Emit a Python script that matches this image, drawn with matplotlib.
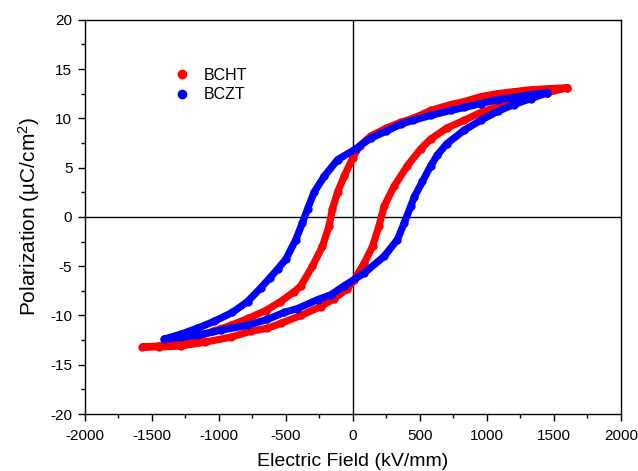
import matplotlib
matplotlib.use("Agg")
import matplotlib.pyplot as plt
from matplotlib.ticker import MultipleLocator

plt.rcParams['font.family'] = ['Liberation Sans', 'DejaVu Sans']
plt.rcParams['mathtext.fontset'] = 'custom'
plt.rcParams['mathtext.rm'] = 'Liberation Sans'
plt.rcParams['mathtext.it'] = 'Liberation Sans'
plt.rcParams['axes.unicode_minus'] = False

# ---------- data (kV/mm, uC/cm2) -------------------
bcht_E = [1602, 1450, 1328, 1200, 1080, 955, 831, 731, 582, 450, 358, 250, 134, 50, 0,
          -65, -114, -152, -177, -227, -301, -388, -438, -540, -650,
          -780, -910, -1040, -1160, -1300, -1450, -1570,
          -1450, -1284, -1100, -910, -760, -637, -537, -388, -239, -140, -40, 10, 85,
          147, 196, 234, 308, 408, 507, 582, 700, 831, 955, 1080, 1200,
          1328, 1450, 1602]
bcht_P = [13.1, 13.0, 12.9, 12.7, 12.5, 12.2, 11.7, 11.4, 10.8, 10.0, 9.6, 9.0, 8.2, 7.2, 6.0,
          4.1, 2.5, 0.8, -0.9, -3.0, -5.0, -7.0, -7.6, -8.6, -9.5,
          -10.3, -11.0, -11.6, -12.2, -12.7, -13.1, -13.2,
          -13.2, -13.1, -12.7, -12.2, -11.6, -11.3, -10.8, -10.0, -9.1, -8.3, -7.3, -6.4, -4.7,
          -3.0, -0.9, 1.1, 3.1, 5.2, 6.9, 7.9, 9.0, 9.8, 10.6, 11.2, 11.7,
          12.1, 12.6, 13.1]

bczt_E = [1453, 1328, 1200, 1080, 955, 831, 731, 582, 450, 358, 250, 134, 22, -114,
          -214, -289, -338, -376, -425, -500, -562, -620, -687, -786, -900, -1035,
          -1160, -1284, -1408,
          -1284, -1159, -985, -786, -637, -513, -413, -263, -164, -65, 85, 234,
          333, 384, 433, 458, 520, 582, 632, 700, 831, 955, 1080, 1200, 1328, 1453]
bczt_P = [12.6, 12.4, 12.1, 11.9, 11.5, 11.1, 10.8, 10.3, 9.8, 9.4, 8.7, 8.0, 6.9, 5.8,
          4.1, 2.5, 0.8, -0.6, -2.3, -4.3, -5.3, -6.2, -7.2, -8.6, -9.7, -10.6,
          -11.3, -11.9, -12.4,
          -12.2, -12.0, -11.5, -11.0, -10.4, -9.7, -9.3, -8.4, -7.9, -7.0, -5.7, -4.0,
          -2.3, -0.6, 1.1, 2.0, 3.6, 5.2, 6.3, 7.4, 8.8, 9.8, 10.7, 11.4, 12.0, 12.6]

fig = plt.figure(figsize=(6.38, 4.71), dpi=100)
ax = fig.add_axes([0.133, 0.121, 0.840, 0.837])

ax.axhline(0, color='black', lw=1.0, zorder=1)
ax.axvline(0, color='black', lw=1.0, zorder=1)

ax.plot(bcht_E, bcht_P, color='#ff0000', lw=5.2, marker='o', ms=5.0,
        solid_capstyle='round', solid_joinstyle='round', label='BCHT', zorder=2)
ax.plot(bczt_E, bczt_P, color='#0000ff', lw=5.2, marker='o', ms=5.0,
        solid_capstyle='round', solid_joinstyle='round', label='BCZT', zorder=3)

ax.set_xlim(-2000, 2000)
ax.set_ylim(-20, 20)
ax.xaxis.set_major_locator(MultipleLocator(500))
ax.xaxis.set_minor_locator(MultipleLocator(250))
ax.yaxis.set_major_locator(MultipleLocator(5))
ax.yaxis.set_minor_locator(MultipleLocator(2.5))
ax.tick_params(which='both', direction='out', top=False, right=False, labelsize=11)
ax.tick_params(which='major', length=5, width=1, pad=4)
ax.tick_params(axis='x', which='major', pad=6)
ax.tick_params(which='minor', length=3, width=1)
for s in ax.spines.values():
    s.set_linewidth(1.0)

ax.set_xlabel('Electric Field (kV/mm)', fontsize=14, labelpad=7)
ax.set_ylabel('Polarization (µC/cm$^2$)', fontsize=15, labelpad=6)

# legend: dots only, no frame
leg = ax.legend(frameon=False, loc='upper left', bbox_to_anchor=(0.145, 0.915),
                fontsize=11.5, handlelength=0.6, handletextpad=1.1, labelspacing=0.3)
for h in leg.legend_handles:
    h.set_linestyle('none')
    h.set_markersize(6)

fig.savefig('out.png', dpi=100)
